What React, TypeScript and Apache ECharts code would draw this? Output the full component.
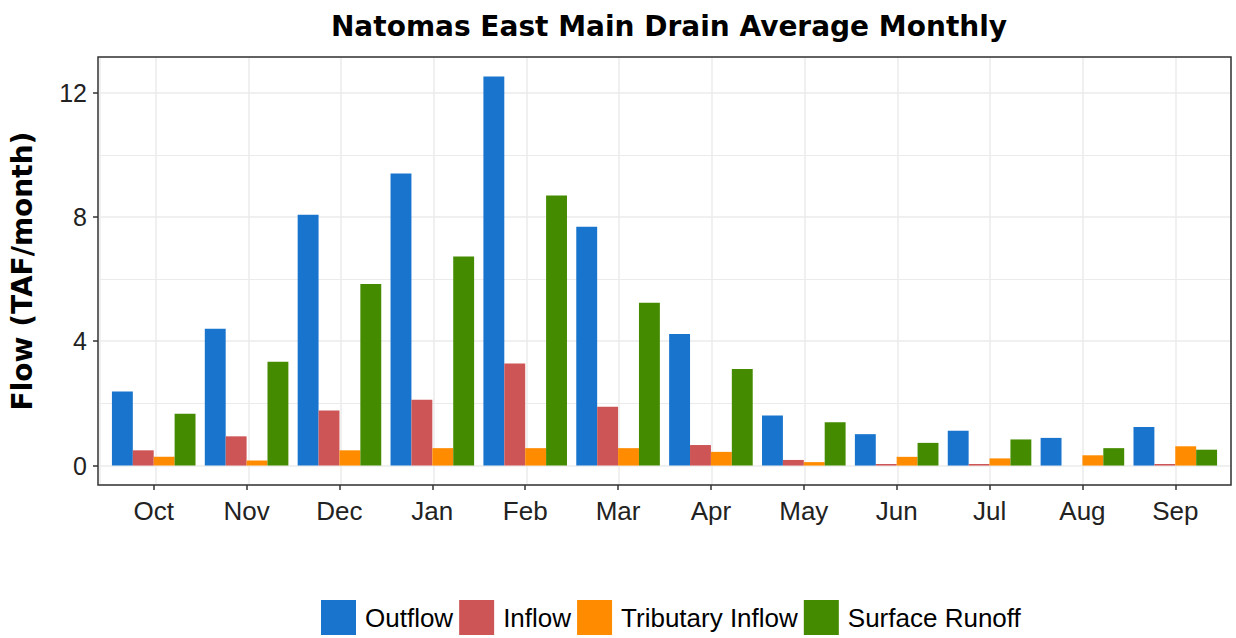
import React, { useEffect, useRef } from "react";
import * as echarts from "echarts";

const months = ["Oct", "Nov", "Dec", "Jan", "Feb", "Mar", "Apr", "May", "Jun", "Jul", "Aug", "Sep"];
const outflow = [2.38, 4.40, 8.07, 9.40, 12.52, 7.68, 4.23, 1.61, 1.01, 1.12, 0.89, 1.24];
const inflow = [0.49, 0.94, 1.77, 2.12, 3.28, 1.89, 0.66, 0.18, 0.05, 0.05, 0, 0.05];
const tributaryInflow = [0.28, 0.16, 0.49, 0.56, 0.56, 0.56, 0.44, 0.11, 0.28, 0.23, 0.33, 0.62];
const surfaceRunoff = [1.67, 3.34, 5.84, 6.73, 8.69, 5.24, 3.11, 1.39, 0.73, 0.84, 0.56, 0.51];
const seriesNames = ["Outflow", "Inflow", "Tributary Inflow", "Surface Runoff"];
const seriesColors = ["#1874CD", "#CD5555", "#FF8C00", "#458B00"];
const yTicks = [0, 4, 8, 12];
const yMin = -0.626;
const yMax = 13.146;

export default function App() {
  const ref = useRef<HTMLDivElement>(null);
  useEffect(() => {
    document.body.style.margin = "0";
    const chart = echarts.init(ref.current!, null, { renderer: "svg" });
    const font = "Liberation Sans, Arial, sans-serif";
    const boldFont = "DejaVu Sans, Liberation Sans, sans-serif";
    const values = [outflow, inflow, tributaryInflow, surfaceRunoff];
    // panel geometry
    const pTop = 57;
    const pBottom = 485;
    const pLeft = 98;
    const pRight = 1231;
    const unit = (pBottom - pTop) / (yMax - yMin);
    const y12 = pTop + (yMax - yTicks[yTicks.length - 1]) * unit;
    const y0 = pTop + (yMax - yTicks[0]) * unit;
    const band = (pRight - pLeft) / 12.2;
    chart.setOption({
      animation: false,
      backgroundColor: "#ffffff",
      textStyle: { fontFamily: font },
      title: {
        text: "Natomas East Main Drain Average Monthly",
        left: 664,
        textAlign: "center",
        top: 7,
        textStyle: { fontSize: 28, fontWeight: "bold", color: "#000", fontFamily: boldFont },
      },
      legend: {
        top: 600,
        left: 321,
        padding: 0,
        itemWidth: 35,
        itemHeight: 35,
        itemGap: 6,
        icon: "rect",
        data: seriesNames,
        textStyle: { fontSize: 26, color: "#000", fontFamily: font, padding: [0, 0, 0, 4] },
      },
      graphic: [
        {
          type: "rect",
          z: 100,
          shape: { x: pLeft, y: pTop, width: pRight - pLeft, height: pBottom - pTop },
          style: { fill: "none", stroke: "#333333", lineWidth: 1.5 },
          silent: true,
        },
      ],
      grid: [
        { left: pLeft, right: 1236 - pRight, top: pTop, bottom: 638 - pBottom },
        { left: pLeft + 0.1 * band, right: 1236 - pRight + 0.1 * band, top: pTop, bottom: 638 - pBottom },
        { left: pLeft, right: 1236 - pRight, top: y12, bottom: 638 - y0 },
      ],
      xAxis: [
        {
          type: "value",
          gridIndex: 0,
          min: 0.4,
          max: 12.6,
          splitNumber: 12,
          minInterval: 1,
          maxInterval: 1,
          axisLine: { show: false },
          axisTick: { show: false },
          axisLabel: { show: false },
          splitLine: { show: true, lineStyle: { color: "#EBEBEB", width: 1.5 } },
        },
        {
          type: "category",
          gridIndex: 1,
          data: months,
          axisLine: { show: false, onZero: false },
          axisTick: { show: true, alignWithLabel: true, length: 5, lineStyle: { color: "#333333", width: 1.5 } },
          axisLabel: { fontSize: 26, color: "#222", margin: 13, fontFamily: font },
          splitLine: { show: false },
        },
        {
          type: "value",
          gridIndex: 2,
          show: false,
        },
      ],
      yAxis: [
        {
          type: "value",
          gridIndex: 0,
          min: yMin,
          max: yMax,
          splitNumber: 4,
          minInterval: 4,
          maxInterval: 4,
          name: "Flow (TAF/month)",
          nameLocation: "middle",
          nameGap: 64,
          nameTextStyle: { fontSize: 28, fontWeight: "bold", color: "#000", fontFamily: boldFont },
          axisLine: { show: false },
          axisTick: { show: false },
          axisLabel: { show: false },
          splitLine: { show: true, lineStyle: { color: "#EBEBEB", width: 1.5 } },
          minorTick: { show: false, splitNumber: 2 },
          minorSplitLine: { show: true, lineStyle: { color: "#EBEBEB", width: 1.2 } },
        },
        {
          type: "value",
          gridIndex: 1,
          min: yMin,
          max: yMax,
          show: false,
        },
        {
          type: "value",
          gridIndex: 2,
          min: yTicks[0],
          max: yTicks[yTicks.length - 1],
          interval: 4,
          axisLine: { show: false },
          axisTick: { show: true, length: 5, lineStyle: { color: "#333333", width: 1.5 } },
          axisLabel: { fontSize: 25, color: "#222", margin: 11, fontFamily: font },
          splitLine: { show: false },
        },
      ],
      series: values.map((d, i) => ({
        name: seriesNames[i],
        type: "bar",
        xAxisIndex: 1,
        yAxisIndex: 1,
        data: d,
        barGap: "0%",
        barCategoryGap: "10%",
        itemStyle: { color: seriesColors[i] },
      })),
    });
    return () => chart.dispose();
  }, []);
  return <div ref={ref} style={{ width: 1236, height: 638 }} />;
}
